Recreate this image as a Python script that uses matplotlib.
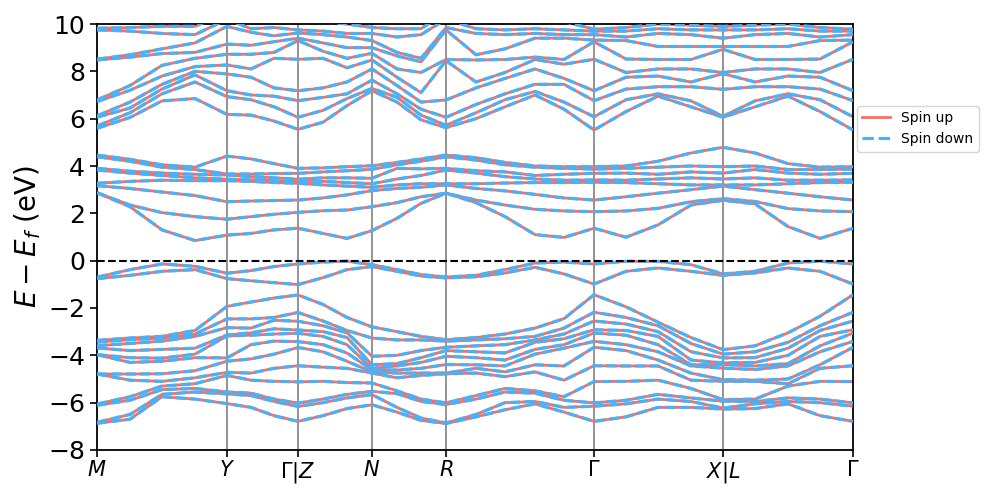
import numpy as np
import matplotlib
matplotlib.use("Agg")
import matplotlib.pyplot as plt
from matplotlib.lines import Line2D

# k-path sample positions (path length, arbitrary units)
k_samples = [0.00, 0.33, 0.65, 0.98, 1.30, 1.54, 1.77, 2.01, 2.26, 2.50, 2.75,
             3.00, 3.24, 3.49, 3.79, 4.08, 4.38, 4.67, 4.97, 5.29, 5.61, 5.94,
             6.26, 6.58, 6.91, 7.23, 7.56]
label_pos = [0.00, 1.30, 2.01, 2.75, 3.49, 4.97, 6.26, 7.56]
label_txt = ["$M$", "$Y$", r"$\Gamma|Z$", "$N$", "$R$", r"$\Gamma$", "$X|L$", r"$\Gamma$"]

# valence band energies (eV) at each k sample, sorted high -> low
valence = [
    [-0.70, -0.76, -3.37, -3.44, -3.59, -3.69, -3.97, -3.97, -4.79, -4.79, -6.06, -6.11, -6.83, -6.87],
    [-0.38, -0.62, -3.27, -3.34, -3.50, -3.80, -4.10, -4.30, -4.79, -5.05, -5.75, -5.90, -6.50, -6.70],
    [-0.14, -0.45, -3.20, -3.27, -3.40, -3.75, -4.12, -4.25, -4.78, -5.10, -5.30, -5.45, -5.65, -5.75],
    [-0.24, -0.38, -2.95, -3.10, -3.20, -3.70, -3.95, -4.10, -4.65, -4.95, -5.20, -5.40, -5.55, -5.85],
    [-0.53, -0.76, -1.93, -2.46, -2.83, -3.14, -3.18, -4.11, -4.25, -4.72, -4.85, -5.55, -5.63, -6.04],
    [-0.42, -0.85, -1.75, -2.46, -2.85, -3.05, -3.15, -3.55, -4.15, -4.75, -5.05, -5.60, -5.70, -6.20],
    [-0.25, -0.93, -1.58, -2.40, -2.52, -2.88, -3.10, -3.40, -3.95, -4.55, -5.10, -5.85, -5.95, -6.55],
    [-0.14, -1.01, -1.45, -2.19, -2.56, -2.93, -3.07, -3.42, -3.67, -4.44, -5.12, -6.02, -6.16, -6.79],
    [-0.06, -0.72, -1.85, -2.55, -2.75, -3.00, -3.20, -3.55, -3.85, -4.50, -5.10, -5.85, -6.00, -6.55],
    [-0.02, -0.38, -2.40, -2.95, -3.05, -3.25, -3.55, -3.90, -4.25, -4.55, -5.15, -5.65, -5.80, -6.25],
    [-0.17, -0.25, -2.80, -3.27, -4.04, -4.40, -4.55, -4.62, -4.70, -4.75, -5.17, -5.52, -5.66, -6.09],
    [-0.38, -0.45, -3.00, -3.35, -4.00, -4.35, -4.45, -4.62, -4.75, -4.95, -5.50, -5.62, -6.20, -6.40],
    [-0.59, -0.65, -3.20, -3.35, -3.80, -4.10, -4.30, -4.55, -4.75, -4.85, -5.85, -5.95, -6.65, -6.75],
    [-0.69, -0.73, -3.34, -3.40, -3.66, -3.80, -4.04, -4.39, -4.75, -4.78, -6.01, -6.08, -6.86, -6.88],
    [-0.62, -0.68, -3.25, -3.35, -3.60, -3.85, -4.10, -4.40, -4.55, -4.75, -5.70, -5.85, -6.50, -6.60],
    [-0.38, -0.52, -3.10, -3.30, -3.55, -3.90, -4.20, -4.45, -4.70, -4.90, -5.40, -5.55, -6.00, -6.30],
    [-0.10, -0.28, -2.85, -3.20, -3.35, -3.45, -3.75, -3.95, -4.40, -4.70, -5.50, -5.60, -5.95, -6.05],
    [-0.06, -0.56, -2.45, -2.85, -3.10, -3.30, -3.55, -3.70, -4.45, -5.05, -5.75, -5.90, -6.20, -6.40],
    [-0.14, -0.99, -1.44, -2.18, -2.55, -2.92, -3.06, -3.41, -3.66, -4.44, -5.11, -6.01, -6.15, -6.79],
    [-0.03, -0.45, -1.95, -2.40, -2.68, -2.95, -3.15, -3.55, -3.80, -4.45, -5.10, -5.90, -6.05, -6.60],
    [-0.03, -0.31, -2.60, -2.75, -3.00, -3.20, -3.55, -3.85, -4.20, -4.45, -5.05, -5.65, -5.85, -6.20],
    [-0.17, -0.45, -3.25, -3.50, -3.85, -4.20, -4.40, -4.45, -4.75, -5.05, -5.40, -5.80, -5.95, -6.20],
    [-0.56, -0.62, -3.76, -3.95, -4.11, -4.32, -4.39, -4.54, -5.03, -5.10, -5.87, -5.94, -6.23, -6.27],
    [-0.45, -0.52, -3.60, -3.85, -4.10, -4.30, -4.45, -4.60, -5.05, -5.10, -5.85, -5.95, -6.05, -6.25],
    [-0.10, -0.31, -3.05, -3.45, -3.70, -4.00, -4.35, -4.45, -5.00, -5.20, -5.30, -5.80, -5.95, -6.05],
    [-0.02, -0.45, -2.35, -2.75, -2.95, -3.20, -3.60, -3.85, -4.40, -4.55, -5.10, -5.85, -6.00, -6.55],
    [-0.14, -0.99, -1.44, -2.18, -2.55, -2.92, -3.06, -3.41, -3.66, -4.44, -5.11, -6.01, -6.15, -6.79],
]

# lower conduction bands (eV) at each k sample
conduction_low = [
    [2.87, 2.87, 3.17, 3.27, 3.83, 3.90, 4.39, 4.46],
    [2.28, 2.35, 3.05, 3.35, 3.70, 3.78, 4.20, 4.28],
    [1.30, 2.03, 2.90, 3.40, 3.60, 3.70, 3.95, 4.05],
    [0.85, 1.86, 2.75, 3.38, 3.50, 3.65, 3.85, 3.95],
    [1.08, 1.75, 2.49, 3.38, 3.44, 3.62, 3.66, 4.42],
    [1.15, 1.86, 2.52, 3.35, 3.42, 3.55, 3.66, 4.30],
    [1.30, 1.96, 2.54, 3.30, 3.38, 3.50, 3.68, 4.10],
    [1.37, 2.04, 2.56, 3.27, 3.34, 3.44, 3.69, 3.90],
    [1.15, 2.11, 2.65, 3.20, 3.35, 3.50, 3.75, 3.92],
    [0.94, 2.14, 2.78, 3.15, 3.30, 3.50, 3.80, 3.97],
    [1.27, 2.28, 2.96, 3.10, 3.25, 3.48, 3.86, 4.01],
    [1.79, 2.45, 3.05, 3.20, 3.45, 3.90, 4.05, 4.15],
    [2.42, 2.70, 3.10, 3.25, 3.60, 3.88, 4.20, 4.30],
    [2.85, 2.85, 3.20, 3.25, 3.83, 3.90, 4.39, 4.46],
    [2.45, 2.56, 3.05, 3.25, 3.70, 3.80, 4.25, 4.35],
    [1.86, 2.35, 2.95, 3.28, 3.55, 3.75, 4.05, 4.15],
    [1.10, 2.17, 2.80, 3.30, 3.45, 3.60, 3.95, 4.00],
    [0.98, 2.10, 2.65, 3.30, 3.40, 3.65, 3.90, 3.97],
    [1.37, 2.07, 2.56, 3.31, 3.41, 3.69, 3.87, 3.97],
    [0.99, 2.10, 2.70, 3.30, 3.40, 3.70, 3.90, 4.00],
    [1.51, 2.21, 2.85, 3.25, 3.45, 3.65, 3.95, 4.20],
    [2.35, 2.49, 3.00, 3.20, 3.50, 3.75, 4.00, 4.55],
    [2.55, 2.62, 3.15, 3.20, 3.45, 3.70, 3.97, 4.79],
    [2.40, 2.50, 3.00, 3.20, 3.50, 3.85, 4.00, 4.55],
    [1.44, 2.20, 2.85, 3.25, 3.40, 3.70, 3.85, 4.10],
    [0.94, 2.10, 2.70, 3.30, 3.40, 3.65, 3.85, 3.95],
    [1.37, 2.07, 2.56, 3.31, 3.41, 3.69, 3.87, 3.97],
]

# upper conduction bands (eV) at each k sample
conduction_high = [
    [5.59, 5.69, 6.06, 6.12, 6.72, 6.79, 8.48, 8.51, 9.75, 9.82],
    [6.05, 6.25, 6.45, 6.70, 7.20, 7.40, 8.60, 8.70, 9.70, 9.85],
    [6.75, 7.05, 7.25, 7.45, 7.80, 8.25, 8.75, 8.95, 9.60, 9.90],
    [6.85, 7.55, 7.85, 8.00, 8.20, 8.55, 8.80, 9.20, 9.55, 9.90],
    [6.18, 6.93, 7.18, 7.89, 8.27, 8.72, 9.15, 9.90, 10.2, 10.5],
    [6.15, 6.80, 7.00, 7.75, 8.10, 8.72, 9.10, 9.65, 9.80, 10.2],
    [5.90, 6.50, 6.95, 7.30, 8.55, 8.80, 9.25, 9.50, 9.85, 10.2],
    [5.55, 6.06, 6.76, 7.18, 8.51, 9.30, 9.40, 9.62, 9.75, 10.2],
    [5.85, 6.35, 6.90, 7.30, 8.55, 8.85, 9.20, 9.55, 9.70, 10.1],
    [6.55, 6.85, 7.05, 7.55, 8.15, 8.55, 9.00, 9.45, 9.60, 10.0],
    [7.18, 7.28, 7.63, 8.10, 8.48, 8.76, 9.00, 9.30, 9.60, 9.85],
    [6.70, 6.90, 7.05, 7.40, 7.75, 8.10, 8.65, 8.80, 9.45, 9.80],
    [5.95, 6.15, 6.40, 6.70, 7.10, 7.95, 8.40, 8.55, 9.55, 9.80],
    [5.62, 5.72, 6.06, 6.79, 8.45, 8.50, 9.75, 9.85, 10.2, 10.5],
    [6.00, 6.25, 6.60, 7.30, 7.55, 8.48, 8.70, 9.60, 9.80, 10.2],
    [6.50, 6.80, 7.05, 7.70, 7.95, 8.50, 8.95, 9.55, 9.75, 10.1],
    [7.00, 7.15, 7.45, 8.10, 8.50, 8.60, 9.40, 9.60, 9.80, 10.1],
    [6.40, 6.70, 7.45, 7.70, 8.30, 8.50, 9.40, 9.55, 9.75, 10.1],
    [5.52, 6.08, 6.76, 7.18, 8.51, 9.25, 9.32, 9.55, 9.70, 9.78],
    [6.30, 6.80, 7.25, 7.75, 7.95, 8.52, 9.30, 9.45, 9.70, 9.85],
    [6.95, 7.05, 7.35, 7.80, 8.10, 8.50, 9.05, 9.60, 9.80, 10.0],
    [6.50, 6.75, 7.35, 7.55, 8.10, 8.50, 9.05, 9.55, 9.75, 9.95],
    [6.06, 6.10, 7.24, 7.90, 7.95, 8.93, 9.05, 9.40, 9.75, 9.90],
    [6.50, 6.75, 7.35, 7.55, 8.10, 8.50, 9.05, 9.55, 9.75, 9.95],
    [6.95, 7.05, 7.35, 7.80, 8.10, 8.50, 9.05, 9.60, 9.80, 10.0],
    [6.30, 6.80, 7.25, 7.75, 7.95, 8.52, 9.30, 9.45, 9.70, 9.85],
    [5.52, 6.08, 6.76, 7.18, 8.51, 9.25, 9.32, 9.55, 9.70, 9.78],
]

bands = np.hstack([np.array(valence), np.array(conduction_low), np.array(conduction_high)]).T
k = np.array(k_samples)

RED = "#ff6b61"
BLUE = "#4db0f2"

fig = plt.figure(figsize=(9.97, 4.98), dpi=100)
ax = fig.add_axes([0.0973, 0.0964, 0.7583, 0.8554])

for b in bands:
    ax.plot(k, b, color=RED, lw=2.0, solid_capstyle="butt", solid_joinstyle="round", zorder=2)
for b in bands:
    ax.plot(k, b, color=BLUE, lw=2.3, ls="--", dashes=(3.2, 1.3),
            dash_joinstyle="round", zorder=3)

for x in label_pos[1:-1]:
    ax.axvline(x, color="#808080", lw=1.2, zorder=1)
ax.axhline(0, color="black", ls="--", lw=1.5, zorder=4)

ax.set_xlim(label_pos[0], label_pos[-1])
ax.set_ylim(-8, 10)
ax.set_xticks(label_pos)
ax.set_xticklabels(label_txt, fontsize=15)
ax.set_yticks(np.arange(-8, 11, 2))
ax.tick_params(axis="y", labelsize=18, length=5, width=1.2)
ax.tick_params(axis="x", length=5, width=1.2, pad=2)
for s in ax.spines.values():
    s.set_linewidth(1.3)
ax.set_ylabel(r"$E - E_f$ (eV)", fontsize=20)

handles = [Line2D([], [], color=RED, lw=2.0), Line2D([], [], color=BLUE, lw=2.2, ls="--")]
ax.legend(handles, ["Spin up", "Spin down"], loc="upper left", bbox_to_anchor=(1.005, 0.808),
          fontsize=10, frameon=True, borderaxespad=0.0)

fig.savefig("out.png", dpi=100)
